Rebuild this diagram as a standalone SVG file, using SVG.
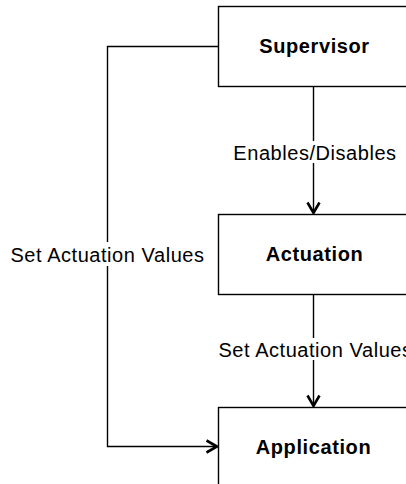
<svg xmlns="http://www.w3.org/2000/svg" width="406" height="484" viewBox="0 0 406 484">
  <style>
    .box { fill: #ffffff; stroke: #000000; stroke-width: 1.4; }
    .title { font-family: "Liberation Sans", Arial, sans-serif; font-size: 20px; font-weight: bold; fill: #000000; text-anchor: middle; letter-spacing: 0.6px; }
    .lbl { font-family: "Liberation Sans", Arial, sans-serif; font-size: 20px; fill: #000000; text-anchor: middle; letter-spacing: 0.55px; }
    .edge { fill: none; stroke: #000000; stroke-width: 1.4; }
    .lblbg { fill: #ffffff; }
  </style>
  <defs>
    <marker id="open" markerUnits="userSpaceOnUse" markerWidth="16" markerHeight="16" viewBox="-13 -8 16 16" refX="0" refY="0" orient="auto">
      <path d="M -10.5,-6 L 0,0 L -10.5,6" fill="none" stroke="#000000" stroke-width="2.6"/>
    </marker>
  </defs>
  <g id="connectors">
    <path class="edge" d="M 313.5,86.5 L 313.5,213" marker-end="url(#open)"/>
    <path class="edge" d="M 313.5,294.5 L 313.5,406" marker-end="url(#open)"/>
    <path class="edge" d="M 218.5,46.5 L 107.5,46.5 L 107.5,446.5 L 217,446.5" marker-end="url(#open)"/>
    <rect class="lblbg" x="230" y="141" width="176" height="22"/>
    <text class="lbl" x="315" y="160">Enables/Disables</text>
    <rect class="lblbg" x="6" y="242" width="204" height="24"/>
    <text class="lbl" x="107.5" y="262">Set Actuation Values</text>
    <rect class="lblbg" x="214" y="338" width="192" height="22"/>
    <text class="lbl" x="315.5" y="357">Set Actuation Values</text>
  </g>
  <g id="supervisor">
    <rect class="box" x="218.5" y="6.5" width="190" height="80"/>
    <text class="title" x="314.5" y="53">Supervisor</text>
  </g>
  <g id="actuation">
    <rect class="box" x="218.5" y="214.5" width="190" height="80"/>
    <text class="title" x="314.5" y="261">Actuation</text>
  </g>
  <g id="application">
    <rect class="box" x="218.5" y="407.5" width="190" height="80"/>
    <text class="title" x="313.5" y="454">Application</text>
  </g>
</svg>
